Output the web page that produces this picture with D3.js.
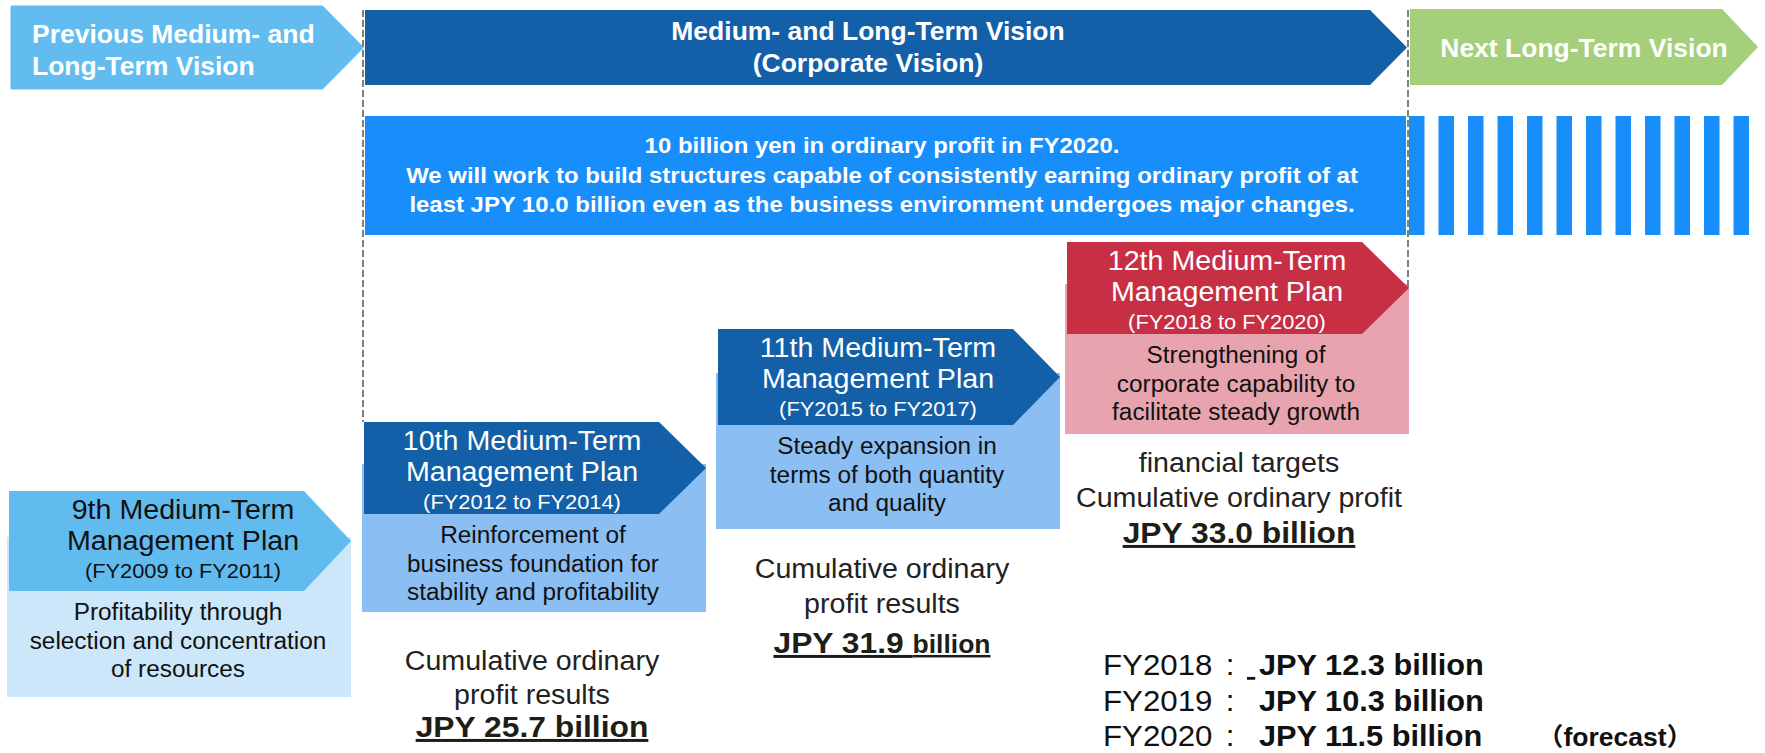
<!DOCTYPE html>
<html>
<head>
<meta charset="utf-8">
<script src="https://cdn.jsdelivr.net/npm/d3@7"></script>
<style>
  body { margin: 0; background: #fff; }
  svg { display: block; font-family: "Liberation Sans", Arial, "Noto Sans CJK JP", sans-serif; }
</style>
</head>
<body>
<div id="chart"></div>
<script>
// ---- data ----
const visionNames = ["previous", "current", "next"];
const visionLabels = [
  ["Previous Medium- and", "Long-Term Vision"],
  ["Medium- and Long-Term Vision", "(Corporate Vision)"],
  ["Next Long-Term Vision"],
];
const visionGoal = [
  "10 billion yen in ordinary profit in FY2020.",
  "We will work to build structures capable of consistently earning ordinary profit of at",
  "least JPY 10.0 billion even as the business environment undergoes major changes.",
];
const planNames = ["9th", "10th", "11th", "12th"];
const planPeriods = ["(FY2009 to FY2011)", "(FY2012 to FY2014)", "(FY2015 to FY2017)", "(FY2018 to FY2020)"];
const planThemes = [
  ["Profitability through", "selection and concentration", "of resources"],
  ["Reinforcement of", "business foundation for", "stability and profitability"],
  ["Steady expansion in", "terms of both quantity", "and quality"],
  ["Strengthening of", "corporate capability to", "facilitate steady growth"],
];
const resultPlans = ["10th", "11th", "12th"];
const resultCaptions = [
  ["Cumulative ordinary", "profit results"],
  ["Cumulative ordinary", "profit results"],
  ["financial targets", "Cumulative ordinary profit"],
];
const resultAmounts = [25.7, 31.9, 33.0];
const fyLabels = ["FY2018", "FY2019", "FY2020"];
const fyProfit = [12.3, 10.3, 11.5];
const fyNotes = ["", "", "（forecast）"];

// ---- layout ----
const W = 1765, H = 753;
const textSX = 1.06; // source text is slightly wide
const fmt = d3.format(".1f");

const svg = d3.select("#chart").append("svg").attr("width", W).attr("height", H);

// x of each plan block, y of each step of the staircase
const planX = d3.scaleOrdinal(planNames, [9, 364, 718, 1067]);
const planTop = d3.scaleOrdinal(planNames, [491, 422, 329, 242]);
const planHeadH = d3.scaleOrdinal(planNames, [100, 92, 96, 92]);
const planBottom = d3.scaleOrdinal(planNames, [697, 612, 529, 434]);
const planHeadFill = d3.scaleOrdinal(planNames, ["#62BBEF", "#1460A8", "#1460A8", "#C72F45"]);
const planBodyFill = d3.scaleOrdinal(planNames, ["#CCE7FA", "#8BBFF3", "#8BBFF3", "#E8A4AE"]);
const planTitleFill = d3.scaleOrdinal(planNames, ["#111", "#fff", "#fff", "#fff"]);
const planTitleDx = d3.scaleOrdinal(planNames, [174, 158, 160, 160]);
const rectW = 295, tipW = 47;

const visionLeft = d3.scaleOrdinal(visionNames, [12, 365, 1410]);
const visionRight = d3.scaleOrdinal(visionNames, [322, 1370, 1722]);
const visionTip = d3.scaleOrdinal(visionNames, [362, 1407, 1758]);
const visionTop = d3.scaleOrdinal(visionNames, [7, 10, 9]);
const visionBottom = d3.scaleOrdinal(visionNames, [88, 85, 85]);
const visionFill = d3.scaleOrdinal(visionNames, ["#63BCEF", "#1460A8", "#A5CF7A"]);

function arrow(x0, xr, xt, y0, y1) {
  const ym = (y0 + y1) / 2;
  return `M${x0},${y0}L${xr},${y0}L${xt},${ym}L${xr},${y1}L${x0},${y1}Z`;
}

// text drawn with a slight horizontal stretch around its anchor
function label(parent, x, y, str, o) {
  return parent.append("text")
    .attr("transform", `translate(${x},${y}) scale(${textSX},1)`)
    .attr("text-anchor", o.anchor || "middle")
    .attr("font-size", o.size)
    .attr("font-weight", o.weight || "normal")
    .attr("fill", o.fill || "#111")
    .text(str);
}

// ---- top vision arrows ----
const vis = svg.append("g");
visionNames.forEach((v, i) => {
  vis.append("path")
    .attr("d", arrow(visionLeft(v), visionRight(v), visionTip(v), visionTop(v), visionBottom(v)))
    .attr("fill", visionFill(v))
    .attr("stroke", visionFill(v))
    .attr("stroke-linejoin", i === 0 ? "round" : "miter")
    .attr("stroke-width", i === 0 ? 3 : 0);
});
const visBaselines = [[43, 75], [40, 72], [57]];
const visTextX = [32, 868, 1584];
visionLabels.forEach((lines, i) => {
  lines.forEach((s, j) => {
    label(vis, visTextX[i], visBaselines[i][j], s, {
      size: 25, weight: "bold", fill: "#fff", anchor: i === 0 ? "start" : "middle",
    });
  });
});

// ---- goal band + stripes ----
const bandX = d3.scaleLinear().domain([0, 1]).range([365, 1406]);
const bandY = d3.scaleLinear().domain([0, 1]).range([116, 235]);
svg.append("rect")
  .attr("x", bandX(0)).attr("y", bandY(0))
  .attr("width", bandX(1) - bandX(0)).attr("height", bandY(1) - bandY(0))
  .attr("fill", "#178EFA");
const stripes = d3.range(12);
const stripeX = d3.scaleBand().domain(stripes).range([1409, 1749]).paddingInner(0.4746);
svg.append("g").selectAll("rect").data(stripes).join("rect")
  .attr("x", (d) => stripeX(d)).attr("y", bandY(0))
  .attr("width", stripeX.bandwidth()).attr("height", bandY(1) - bandY(0))
  .attr("fill", "#178EFA");
visionGoal.forEach((s, i) => {
  label(svg, 882, 153 + i * 29.5, s, { size: 22.6, weight: "bold", fill: "#fff" });
});

// ---- medium-term plans (staircase) ----
const plans = svg.append("g");
planNames.forEach((p, i) => {
  const x0 = planX(p), y0 = planTop(p), y1 = y0 + planHeadH(p);
  const g = plans.append("g");
  // body sits behind the header, from the arrow tip down
  g.append("rect")
    .attr("x", x0 - 2).attr("y", (y0 + y1) / 2 - 4)
    .attr("width", rectW + tipW + 2).attr("height", planBottom(p) - (y0 + y1) / 2 + 4)
    .attr("fill", planBodyFill(p));
  g.append("path")
    .attr("d", arrow(x0, x0 + rectW, x0 + rectW + tipW, y0, y1))
    .attr("fill", planHeadFill(p));
  const tx = x0 + planTitleDx(p);
  label(g, tx, y0 + 28, `${p} Medium-Term`, { size: 27, fill: planTitleFill(p) });
  label(g, tx, y0 + 59, "Management Plan", { size: 27, fill: planTitleFill(p) });
  label(g, tx, y0 + 87, planPeriods[i], { size: 20.6, fill: planTitleFill(p) });
  const bx = x0 + (rectW + tipW) / 2 - 2;
  planThemes[i].forEach((s, j) => {
    label(g, bx, y1 + 29 + j * 28.5, s, { size: 23, fill: "#111" });
  });
});

// ---- cumulative results under the plans ----
const resultCX = d3.scaleOrdinal(resultPlans, [532, 882, 1239]);
const captionY = [[670, 704], [578, 613], [472, 507]];
const amountY = [737, 653, 543];
resultPlans.forEach((p, i) => {
  resultCaptions[i].forEach((s, j) => {
    label(svg, resultCX(p), captionY[i][j], s, { size: 27, fill: "#222" });
  });
  const t = label(svg, resultCX(p), amountY[i], "", { size: 30, weight: "bold", fill: "#1e1e16" })
    .style("text-decoration", "underline");
  if (p === "11th") {
    t.append("tspan").text(`JPY ${fmt(resultAmounts[i])} `);
    t.append("tspan").attr("font-size", 25).text("billion");
  } else {
    t.text(`JPY ${fmt(resultAmounts[i])} billion`);
  }
});

// ---- yearly figures of the 12th plan ----
const fyY = d3.scaleOrdinal(fyLabels, [675, 711, 746]);
fyLabels.forEach((f, i) => {
  label(svg, 1103, fyY(f), f, { size: 29.5, anchor: "start", fill: "#111" });
  label(svg, 1230, fyY(f), ":", { size: 29.5, fill: "#111" });
  if (i === 0) {
    label(svg, 1247, fyY(f), "\u00a0", { size: 28, anchor: "start" }).style("text-decoration", "underline");
  }
  label(svg, 1259, fyY(f), `JPY ${fmt(fyProfit[i])} billion`, {
    size: 29, weight: "bold", anchor: "start", fill: "#111",
  });
  if (fyNotes[i]) {
    label(svg, 1615, fyY(f), fyNotes[i], { size: 25, weight: "bold", fill: "#111" });
  }
});

// ---- dashed period boundaries ----
const dashes = [[363, 10, 422], [1408, 10, 289]];
svg.append("g").selectAll("line").data(dashes).join("line")
  .attr("x1", (d) => d[0]).attr("x2", (d) => d[0])
  .attr("y1", (d) => d[1]).attr("y2", (d) => d[2])
  .attr("stroke", "#808080").attr("stroke-width", 2)
  .attr("stroke-dasharray", "7,3");
</script>
</body>
</html>
